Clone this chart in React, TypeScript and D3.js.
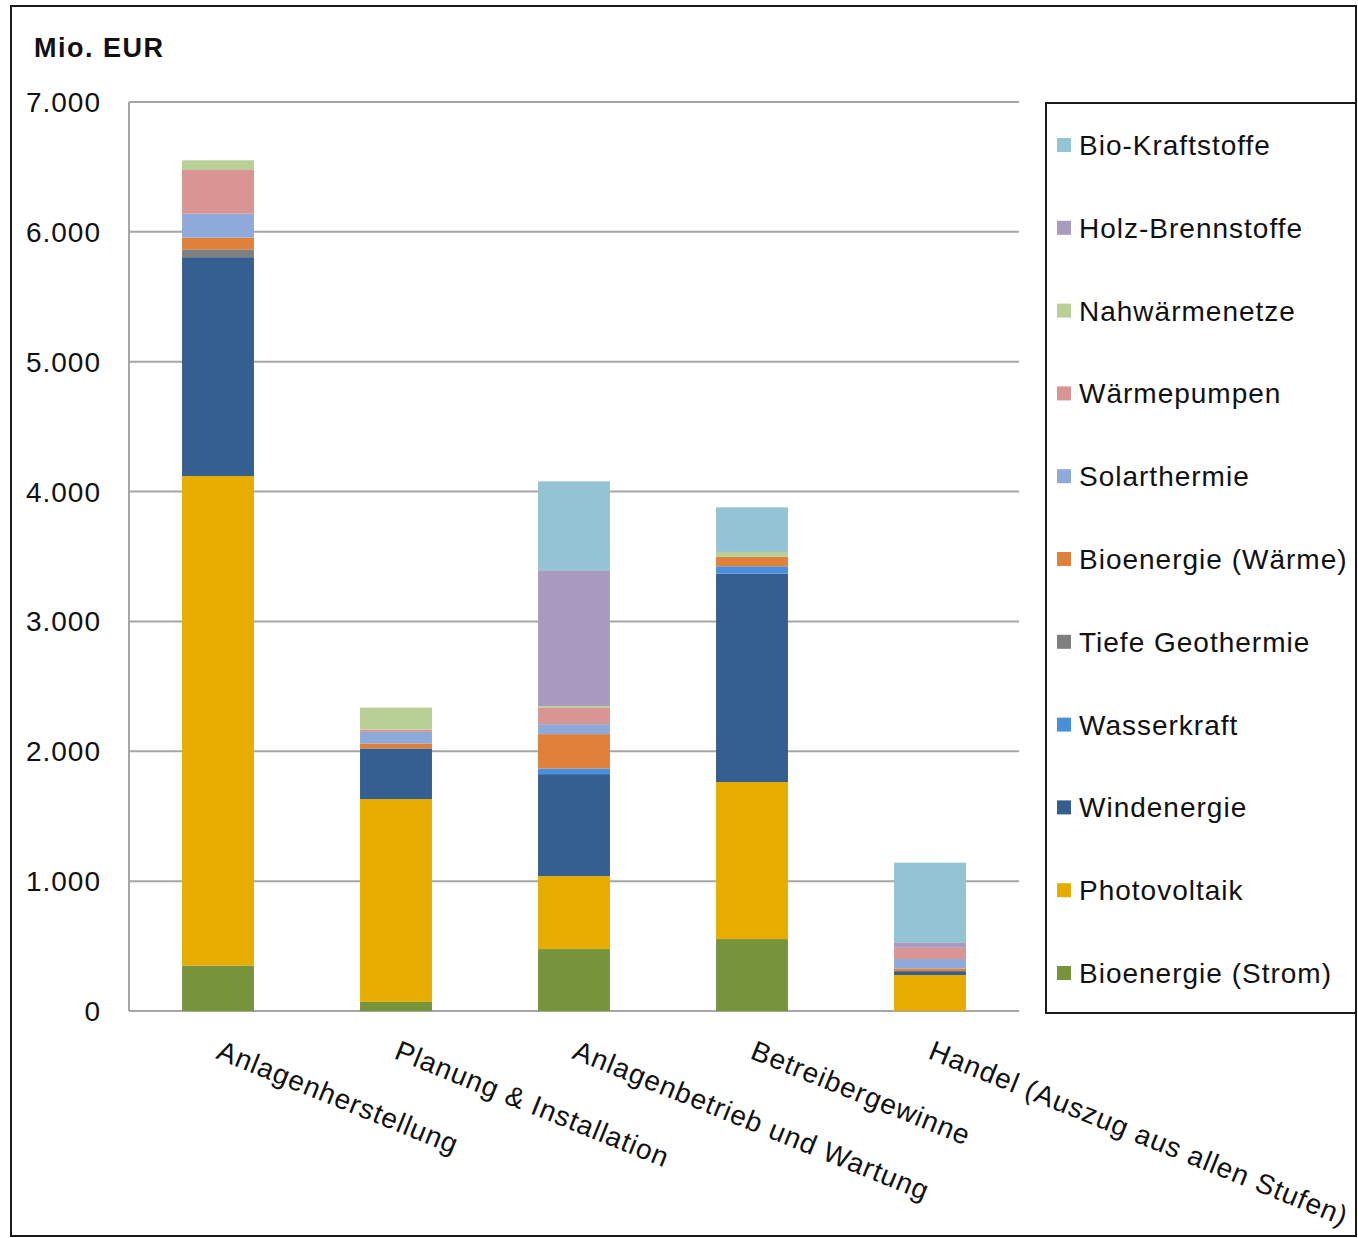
import React from "react";
import * as d3 from "d3";

const categories = [
  "Anlagenherstellung",
  "Planung & Installation",
  "Anlagenbetrieb und Wartung",
  "Betreibergewinne",
  "Handel (Auszug aus allen Stufen)",
];

const seriesNames = [
  "Bioenergie (Strom)",
  "Photovoltaik",
  "Windenergie",
  "Wasserkraft",
  "Tiefe Geothermie",
  "Bioenergie (Wärme)",
  "Solarthermie",
  "Wärmepumpen",
  "Nahwärmenetze",
  "Holz-Brennstoffe",
  "Bio-Kraftstoffe",
];

const seriesColors = [
  "#77933c",
  "#e6ad00",
  "#355e91",
  "#4a8fdc",
  "#7f7f7f",
  "#e0803a",
  "#8eaadb",
  "#d99594",
  "#b8d095",
  "#a99bc0",
  "#93c4d4",
];

// values per category, in series order
const bioStrom = [350, 70, 477, 554, 0];
const photovoltaik = [3770, 1562, 562, 1209, 277];
const wind = [1685, 390, 785, 1606, 30];
const wasser = [0, 0, 44, 56, 0];
const geothermie = [60, 0, 0, 0, 0];
const bioWaerme = [90, 38, 264, 72, 21];
const solarthermie = [185, 89, 77, 0, 72];
const waermepumpen = [336, 18, 125, 0, 87];
const nahwaerme = [75, 169, 15, 38, 0];
const holz = [0, 0, 1045, 0, 42];
const kraftstoffe = [0, 0, 685, 344, 613];

const seriesValues = [
  bioStrom,
  photovoltaik,
  wind,
  wasser,
  geothermie,
  bioWaerme,
  solarthermie,
  waermepumpen,
  nahwaerme,
  holz,
  kraftstoffe,
];

const yTicks = [0, 1000, 2000, 3000, 4000, 5000, 6000, 7000];

const FONT = "'Liberation Sans', Arial, sans-serif";

export default function App() {
  const W = 1358;
  const H = 1238;
  const left = 129;
  const right = 1019;
  const top = 102;
  const bottom = 1011;

  const x = d3.scaleBand<string>().domain(categories).range([left, right]).paddingInner(0.596).paddingOuter(0.298);
  const y = d3.scaleLinear().domain([0, 7000]).range([bottom, top]);

  const rows = categories.map((c, i) => {
    const r: any = { cat: c };
    seriesNames.forEach((s, j) => (r[s] = seriesValues[j][i]));
    return r;
  });
  const stack = d3.stack<any>().keys(seriesNames);
  const layers = stack(rows);
  const fmt = (v: number) => d3.format(",")(v).replace(/,/g, ".");

  const legendTop = 145;
  const legendStep = 82.8;
  const legendOrder = [...seriesNames].reverse();
  const LS = 1.0;
  const FS = 28;

  return (
    <svg width={W} height={H} style={{ position: "absolute", left: 0, top: 0, background: "#fff" }} fontFamily={FONT}>
      <rect x={11} y={6} width={1345} height={1230} fill="#fff" stroke="#1a1a1a" strokeWidth={2} />
      <text x={34} y={57} fontSize={27} fontWeight="bold" fill="#111" letterSpacing={1.5}>Mio. EUR</text>

      {yTicks.map((t) => (
        <g key={t}>
          <line x1={left} x2={right} y1={y(t)} y2={y(t)} stroke="#a6a6a6" strokeWidth={2} />
          <text x={101} y={y(t) + 10} fontSize={FS} textAnchor="end" fill="#111" letterSpacing={LS}>{fmt(t)}</text>
        </g>
      ))}
      <line x1={left} x2={left} y1={top} y2={bottom} stroke="#a6a6a6" strokeWidth={2} />

      {layers.map((layer, j) => (
        <g key={layer.key} fill={seriesColors[j]}>
          {layer.map((d, i) => {
            const h = y(d[0]) - y(d[1]);
            if (h <= 0) return null;
            return <rect key={i} x={x(categories[i])} y={y(d[1])} width={x.bandwidth()} height={h} />;
          })}
        </g>
      ))}

      {categories.map((c) => {
        const cx = (x(c) as number) + x.bandwidth() / 2 - 3;
        return (
          <text key={c} transform={`translate(${cx},${1058}) rotate(22)`} fontSize={FS} fill="#111" letterSpacing={LS}>
            {c}
          </text>
        );
      })}

      <rect x={1046} y={103} width={310} height={910} fill="#fff" stroke="#1a1a1a" strokeWidth={2} />
      {legendOrder.map((s, k) => {
        const j = seriesNames.indexOf(s);
        const cy = legendTop + k * legendStep;
        return (
          <g key={s}>
            <rect x={1057} y={cy - 7} width={14} height={14} fill={seriesColors[j]} />
            <text x={1079} y={cy + 10} fontSize={FS} fill="#111" letterSpacing={LS}>{s}</text>
          </g>
        );
      })}
    </svg>
  );
}
